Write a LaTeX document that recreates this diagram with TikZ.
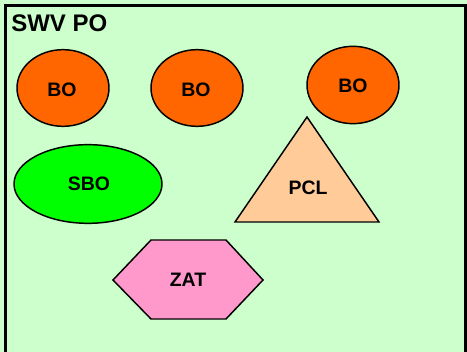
\documentclass[tikz,border=0pt]{standalone}
\usepackage{fontspec}
\setmainfont{Liberation Sans}
\usepackage{tikz}
\usetikzlibrary{shapes.geometric}

\begin{document}
\begin{tikzpicture}[x=0.75pt,y=0.75pt,yscale=-1,xscale=1,
  blob/.style={ellipse,draw=black,line width=1.1pt,inner sep=0pt},
  lbl/.style={inner sep=0pt,font=\fontsize{14.6}{16}\selectfont\bfseries}]
\useasboundingbox (0,0) rectangle (467,352);
%Background
\fill[fill={rgb, 255:red, 204; green, 255; blue, 204 }] (0,0) rectangle (467,352);
%Frame
\draw[line width=2.25pt] (5.5,360) -- (5.5,5.5) -- (465,5.5) -- (465,360);
% Text Node
\node[anchor=base west,inner sep=0pt,font=\fontsize{18}{20}\selectfont\bfseries] (title) at (11,31.5) {SWV PO};
%Shape: Ellipse
\node[blob,fill={rgb, 255:red, 255; green, 102; blue, 0 },minimum width=69pt,minimum height=57.5pt] (bo1) at (63,88) {};
\node[lbl] (bo1l) at (62,90) {BO};
%Shape: Ellipse
\node[blob,fill={rgb, 255:red, 255; green, 102; blue, 0 },minimum width=69pt,minimum height=57.5pt] (bo2) at (197,88) {};
\node[lbl] (bo2l) at (196,90) {BO};
%Shape: Ellipse
\node[blob,fill={rgb, 255:red, 255; green, 102; blue, 0 },minimum width=69pt,minimum height=58pt] (bo3) at (353,85) {};
\node[lbl] (bo3l) at (353,86) {BO};
%Shape: Ellipse
\node[blob,fill={rgb, 255:red, 0; green, 255; blue, 0 },minimum width=111pt,minimum height=59pt] (sbo) at (88,184) {};
\node[lbl] (sbol) at (89,184) {SBO};
%Shape: Triangle
\draw[line width=1.1pt,fill={rgb, 255:red, 255; green, 204; blue, 153 },line join=miter] (307,117) -- (379,222) -- (235,222) -- cycle;
% Text Node
\node[lbl] (pcl) at (308,188) {PCL};
%Shape: Hexagon
\draw[line width=1.1pt,fill={rgb, 255:red, 255; green, 153; blue, 204 }] (113,280) -- (151,240) -- (226,240) -- (263,280) -- (226,319) -- (151,319) -- cycle;
% Text Node
\node[lbl] (zat) at (188,280) {ZAT};
\end{tikzpicture}
\end{document}
